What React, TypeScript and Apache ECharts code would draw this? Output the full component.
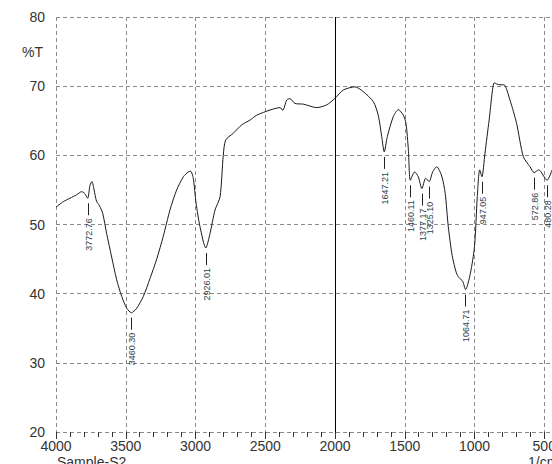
import React, { useEffect, useRef } from "react";
import * as echarts from "echarts";

// Spectrum: wavenumber (1/cm) and transmittance (%T)
const wavenumbers = [
  4000, 3948, 3900, 3852, 3816, 3795, 3773, 3756, 3742, 3727, 3710, 3688, 3665, 3637, 3601,
  3565, 3529, 3493, 3460, 3425, 3374, 3326, 3278, 3231, 3183, 3135, 3087, 3052, 3035, 3016,
  2996, 2968, 2926, 2896, 2860, 2824, 2801, 2784, 2729, 2669, 2609, 2561, 2466, 2394, 2375,
  2346, 2323, 2287, 2227, 2131, 2059, 2000, 1940, 1857, 1797, 1725, 1690, 1665, 1647, 1625,
  1582, 1546, 1510, 1491, 1474, 1460, 1430, 1403, 1377, 1350, 1325, 1300, 1271, 1235, 1210,
  1188, 1160, 1130, 1110, 1085, 1064, 1030, 1000, 980, 963, 947, 925, 895, 858, 840,
  817, 789, 746, 698, 650, 602, 572, 540, 480, 444,
];
const transmittance = [
  52.5, 53.3, 53.8, 54.3, 54.75, 54.5, 53.8, 55.7, 56.2, 55.0, 53.4, 52.7, 51.6, 48.7, 45.3,
  42.0, 39.6, 37.9, 37.25, 37.8, 39.6, 42.2, 45.0, 48.3, 52.1, 55.0, 56.9, 57.6, 57.7, 56.7,
  53.1, 49.7, 46.6, 48.7, 52.1, 54.0, 60.0, 62.2, 63.2, 64.4, 65.1, 65.8, 66.55, 66.9, 66.5,
  68.0, 68.2, 67.5, 67.4, 66.9, 67.3, 68.25, 69.45, 69.9, 69.2, 67.75, 65.8, 62.7, 60.5, 62.7,
  65.6, 66.6, 65.8, 64.6, 60.8, 56.4, 57.6, 56.9, 55.2, 56.7, 56.2, 57.6, 58.35, 57.0, 54.5,
  49.7, 45.5, 43.0, 42.3, 41.8, 40.6, 42.9, 46.8, 54.0, 57.9, 56.9, 60.3, 65.1, 70.5, 70.3,
  70.2, 70.2, 68.0, 64.6, 59.8, 58.35, 57.5, 57.9, 56.4, 57.9,
];

// Peak annotations
const peakWn = [3772.76, 3460.3, 2926.01, 1647.21, 1460.11, 1377.17, 1325.1, 1064.71, 947.05, 572.86, 480.28];
const peakT = [53.8, 37.25, 46.6, 60.5, 56.4, 55.2, 56.2, 40.6, 56.9, 57.5, 56.4];
const peakLabels = ["3772.76", "3460.30", "2926.01", "1647.21", "1460.11", "1377.17", "1325.10", "1064.71", "947.05", "572.86", "480.28"];

// Axes
const xMin = 0;
const xMax = 4000;
const xInterval = 500;
const yMin = 20;
const yMax = 80;
const yInterval = 10;
const dividerWn = 2000;

const FONT = '"Liberation Sans", Arial, sans-serif';

export default function App() {
  const ref = useRef<HTMLDivElement>(null);

  useEffect(() => {
    if (!ref.current) return;
    const chart = echarts.init(ref.current, undefined, { renderer: "svg" });
    const lineData = wavenumbers.map((w, i) => [w, transmittance[i]]);
    const peakData = peakWn.map((w, i) => [w, peakT[i]]);

    chart.setOption({
      animation: false,
      backgroundColor: "#ffffff",
      grid: { left: 56, top: 17, width: 558, height: 415 },
      xAxis: {
        type: "value",
        min: xMin,
        max: xMax,
        interval: xInterval,
        inverse: true,
        axisLine: { show: false },
        axisTick: { show: true, length: 7, lineStyle: { color: "#333", width: 1 } },
        minorTick: { show: true, splitNumber: 5, length: 5, lineStyle: { color: "#333", width: 1 } },
        axisLabel: {
          color: "#333",
          fontSize: 14,
          fontFamily: FONT,
          margin: 7,
          formatter: (v: number) => String(v),
        },
        splitLine: { show: true, lineStyle: { color: "#8a8a8a", type: [4, 3], width: 1 } },
      },
      yAxis: {
        type: "value",
        min: yMin,
        max: yMax,
        interval: yInterval,
        axisLine: { show: true, lineStyle: { color: "#333", width: 1 } },
        axisTick: { show: true, length: 8, lineStyle: { color: "#333", width: 1 } },
        minorTick: { show: true, splitNumber: 5, length: 5, lineStyle: { color: "#333", width: 1 } },
        axisLabel: { color: "#333", fontSize: 14, fontFamily: FONT, margin: 11 },
        splitLine: { show: true, lineStyle: { color: "#8a8a8a", type: [4, 3], width: 1 } },
      },
      graphic: [
        { type: "text", left: 22, top: 45, style: { text: "%T", fill: "#333", font: `14px ${FONT}` } },
        { type: "text", left: 57, top: 455, style: { text: "Sample-S2", fill: "#333", font: `14px ${FONT}` } },
        { type: "text", left: 528, top: 455, style: { text: "1/cm", fill: "#333", font: `14px ${FONT}` } },
      ],
      series: [
        {
          type: "line",
          data: lineData,
          showSymbol: false,
          smooth: 0.25,
          lineStyle: { color: "#1a1a1a", width: 1 },
          silent: true,
          markLine: {
            silent: true,
            symbol: "none",
            label: { show: false },
            lineStyle: { color: "#000", type: "solid", width: 1 },
            data: [{ xAxis: dividerWn }],
          },
        },
        {
          type: "custom",
          data: peakData,
          encode: { x: 0, y: 1 },
          clip: false,
          silent: true,
          renderItem: (params: any, api: any) => {
            const p = api.coord([api.value(0), api.value(1)]);
            const x = Math.round(p[0]) + 0.5;
            const y0 = p[1] + 5;
            const y1 = y0 + 12;
            return {
              type: "group",
              children: [
                {
                  type: "line",
                  shape: { x1: x, y1: y0, x2: x, y2: y1 },
                  style: { stroke: "#222", lineWidth: 1 },
                },
                {
                  type: "text",
                  x: x,
                  y: y1 + 3,
                  rotation: Math.PI / 2,
                  style: {
                    text: peakLabels[params.dataIndex],
                    align: "right",
                    verticalAlign: "middle",
                    fill: "#2f3d4a",
                    font: `9px ${FONT}`,
                  },
                },
              ],
            };
          },
        },
      ],
    });
    return () => chart.dispose();
  }, []);

  return (
    <div
      style={{
        position: "fixed",
        left: 0,
        top: 0,
        width: 552,
        height: 464,
        overflow: "hidden",
        background: "#fff",
      }}
    >
      <div ref={ref} style={{ width: 660, height: 464 }} />
    </div>
  );
}
